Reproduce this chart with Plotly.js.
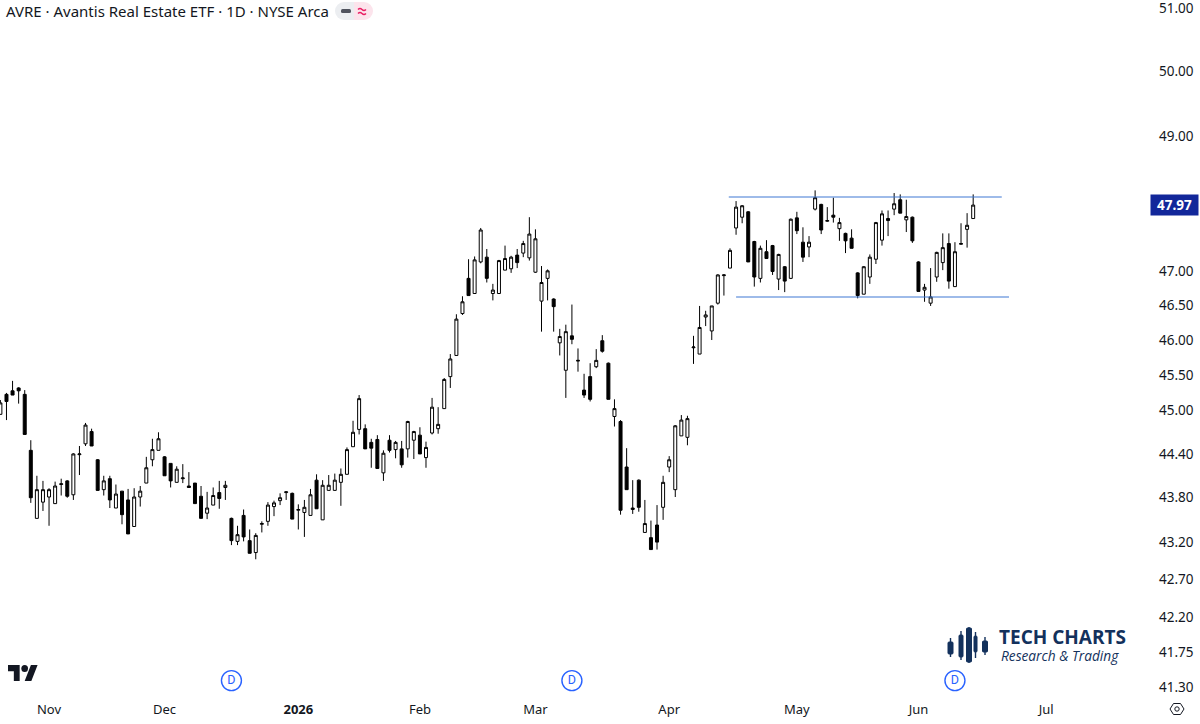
<!DOCTYPE html>
<html>
<head>
<meta charset="utf-8">
<script src="https://cdn.plot.ly/plotly-3.0.1.min.js"></script>
<style>html,body{margin:0;padding:0;background:#fff;overflow:hidden}#c{width:1200px;height:724px}</style>
</head>
<body>
<div id="c"></div>
<script>
const opens = [44.95,45.23,45.28,45.32,45.23,44.45,43.52,43.74,43.81,43.72,
43.98,44.03,43.84,44.39,44.54,44.71,44.32,43.91,44.06,43.66,
43.89,43.77,43.41,43.81,44.00,44.32,44.45,44.36,44.27,44.01,
44.06,43.96,44.00,43.82,43.59,43.70,43.87,43.94,43.52,43.21,
43.56,43.22,43.06,43.44,43.48,43.68,43.76,43.87,43.86,43.63,
43.60,43.56,44.04,43.50,43.90,43.90,44.01,44.12,44.50,44.74,
44.75,44.56,44.60,44.14,44.59,44.46,44.47,44.47,44.59,44.66,
44.35,44.69,44.75,45.03,45.48,45.78,46.38,46.89,46.67,47.13,
47.20,46.67,46.67,47.01,47.03,47.23,47.26,47.19,46.98,46.56,
46.89,46.59,45.96,45.57,46.06,45.70,45.29,45.48,45.62,45.99,
45.67,44.92,44.85,44.22,43.64,44.04,43.33,43.26,43.43,43.67,
44.22,43.91,44.65,44.63,45.89,45.80,46.33,46.13,46.53,46.93,
47.04,47.63,47.79,47.87,47.43,46.89,47.28,47.37,46.88,47.06,
46.89,47.78,47.42,47.35,47.91,47.98,47.73,47.82,47.62,47.55,
47.48,46.97,46.66,46.91,47.17,47.45,47.77,47.91,48.05,47.75,
47.79,47.13,46.72,46.53,46.91,47.12,47.40,46.77,47.39,47.61,
47.77];
const highs = [45.15,45.25,45.42,45.33,45.29,44.59,44.10,44.03,43.93,44.02,
44.06,44.04,44.41,44.51,44.83,44.75,44.33,44.10,44.10,43.98,
43.89,43.92,43.93,43.96,44.36,44.61,44.70,44.37,44.27,44.23,
44.26,44.15,44.00,43.96,43.88,43.94,44.03,44.03,43.53,43.42,
43.64,43.37,43.32,43.48,43.74,43.76,43.86,43.89,43.87,43.71,
43.77,43.92,44.12,44.04,44.11,44.13,44.20,44.49,44.86,45.22,
44.81,44.61,44.66,44.45,44.66,44.58,44.58,44.86,44.72,44.77,
44.57,45.18,45.05,45.46,45.80,46.37,46.63,47.17,47.21,47.63,
47.32,46.81,47.16,47.37,47.22,47.32,47.44,47.79,47.61,47.07,
47.02,46.60,46.16,46.22,46.51,45.88,45.52,45.67,45.87,46.07,
45.68,45.16,44.87,44.48,44.04,44.05,43.77,43.49,43.70,44.10,
44.37,44.80,44.94,44.93,46.06,46.49,46.42,46.49,46.95,46.95,
47.33,48.03,47.97,47.88,47.44,47.37,47.45,47.38,47.25,47.07,
47.77,47.87,47.64,47.51,48.19,47.99,47.94,48.08,47.78,47.56,
47.61,46.98,47.07,47.24,47.72,47.89,47.89,48.15,48.13,48.05,
47.80,47.14,46.81,47.04,47.28,47.55,47.55,47.42,47.70,47.85,
48.13];
const lows = [44.95,44.87,45.22,45.10,44.67,43.73,43.52,43.62,43.42,43.72,
43.83,43.80,43.77,44.11,44.51,44.51,43.90,43.83,43.66,43.66,
43.44,43.31,43.41,43.68,44.00,44.23,44.45,44.10,43.94,44.01,
44.00,43.94,43.72,43.52,43.51,43.70,43.65,43.77,43.16,43.16,
43.21,43.05,42.97,43.33,43.42,43.55,43.70,43.77,43.51,43.37,
43.27,43.56,43.65,43.50,43.90,43.90,43.69,44.12,44.50,44.67,
44.47,44.21,44.20,44.03,44.42,44.34,44.21,44.35,44.33,44.40,
44.21,44.67,44.68,45.03,45.32,45.78,46.36,46.64,46.67,47.11,
46.83,46.57,46.67,47.01,46.97,47.04,47.20,47.15,46.97,46.12,
46.57,46.12,45.78,45.18,45.94,45.55,45.18,45.13,45.60,45.82,
45.16,44.78,43.57,43.91,43.58,43.61,43.33,43.10,43.10,43.50,
44.15,43.81,44.65,44.52,45.66,45.80,46.20,46.00,46.51,46.64,
47.04,47.53,47.70,47.13,46.77,46.83,47.18,46.94,46.72,46.69,
46.88,47.54,47.13,47.20,47.89,47.54,47.72,47.71,47.44,47.26,
47.33,46.60,46.66,46.81,47.10,47.37,47.51,47.82,47.85,47.57,
47.41,46.70,46.55,46.49,46.84,47.01,46.74,46.77,47.38,47.34,
47.77];
const closes = [45.11,45.13,45.22,45.28,44.67,43.80,43.91,43.91,43.91,43.96,
43.99,43.82,44.40,44.40,44.80,44.51,43.90,44.03,43.77,43.85,
43.57,43.31,43.81,43.89,44.21,44.46,44.61,44.10,44.03,44.19,
44.07,43.94,43.72,43.52,43.66,43.83,43.79,43.97,43.22,43.30,
43.27,43.05,43.29,43.45,43.70,43.73,43.80,43.88,43.51,43.64,
43.67,43.84,43.65,43.97,43.97,44.04,44.12,44.46,44.70,45.17,
44.47,44.48,44.20,44.41,44.45,44.56,44.25,44.85,44.71,44.40,
44.49,45.05,44.81,45.44,45.73,46.30,46.55,46.64,47.16,47.60,
46.89,46.72,47.15,47.18,47.20,47.12,47.40,47.54,47.47,46.83,
47.00,46.48,46.05,46.12,46.01,45.71,45.22,45.16,45.71,45.84,
45.16,45.03,43.63,43.91,43.66,43.67,43.45,43.10,43.20,44.01,
44.32,44.79,44.87,44.89,45.90,46.18,46.36,46.49,46.94,46.94,
47.30,47.94,47.96,47.13,46.91,47.33,47.18,46.99,47.24,46.85,
47.76,47.59,47.20,47.42,48.08,47.60,47.74,47.79,47.71,47.44,
47.33,46.64,47.06,47.20,47.71,47.84,47.74,47.99,47.85,47.80,
47.44,46.70,46.76,46.62,47.27,47.34,46.85,47.28,47.40,47.67,
47.97];

const monthLabels = ['Nov','Dec','<b>2026</b>','Feb','Mar','Apr','May','Jun','Jul'];
const monthBars = [8,27,49,69,88,110,131,151,172];
const priceTicks = [51,50,49,47,46.5,46,45.5,45,44.4,43.8,43.2,42.7,42.2,41.75,41.3];
const priceLabels = ['51.00','50.00','49.00','47.00','46.50','46.00','45.50','45.00','44.40','43.80','43.20','42.70','42.20','41.75','41.30'];
const resistanceBars = [119.8,164.7], resistanceLevel = [48.09,48.09];
const supportBars = [121,165.9], supportLevel = [46.62,46.62];
const dividendBars = [38,94,157], dividendRow = [41.38,41.38,41.38];
const lastPrice = 47.97;
const titleText = 'AVRE · Avantis Real Estate ETF · 1D · NYSE Arca';

const W = 1200, H = 724, MR = 46, MB = 27;
const PW = W - MR, PH = H - MB;
const px = x => x / PW, py = y => (PH - y) / PH;
const svg = s => 'data:image/svg+xml;charset=utf-8,' + encodeURIComponent(s);
function img(x0, y0, x1, y1, s) {
  return {source: svg(s), xref:'paper', yref:'paper', x:px(x0), y:py(y0), sizex:(x1-x0)/PW, sizey:(y1-y0)/PH,
          xanchor:'left', yanchor:'top', sizing:'stretch', layer:'above'};
}
const navy = '#13315c';
const tvLogo = '<svg xmlns="http://www.w3.org/2000/svg" viewBox="0 4 36 18"><path fill="#131722" d="M14 22H7V11H0V4h14v18zM28 22h-8l7.5-18h8L28 22z"/><circle fill="#131722" cx="20" cy="8" r="4"/></svg>';
const barsLogo = '<svg xmlns="http://www.w3.org/2000/svg" viewBox="0 0 42 36"><g fill="'+navy+'" stroke="'+navy+'"><path stroke-width="1.4" d="M3.5 11V30M14 4V33M22 0V36M28.5 5V31M38 10V28" fill="none"/><rect x="1" y="15" width="5" height="12" rx="1"/><rect x="12" y="8" width="4" height="22" rx="1"/><rect x="19.5" y="1" width="5" height="34" rx="1"/><rect x="27" y="9" width="3" height="16" rx="1"/><rect x="35.5" y="14" width="5" height="11" rx="1"/></g></svg>';
const gear = '<svg xmlns="http://www.w3.org/2000/svg" viewBox="0 0 16 16"><path fill="none" stroke="#131722" stroke-width="1" d="M4.5 2.5h7L15 8l-3.5 5.5h-7L1 8z"/><circle cx="8" cy="8" r="2.2" fill="none" stroke="#131722" stroke-width="1"/></svg>';
const pill = '<svg xmlns="http://www.w3.org/2000/svg" viewBox="0 0 38 18"><path fill="#eceef1" d="M9 0H19V18H9A9 9 0 0 1 9 0z"/><path fill="#fce4ec" d="M19 0H29A9 9 0 0 1 29 18H19z"/><rect x="6" y="7" width="10" height="4" rx="1.5" fill="#50535e"/><path fill="none" stroke="#e91e63" stroke-width="1.4" d="M23 7.5q2-2 4 0t4 0M23 11.5q2-2 4 0t4 0"/></svg>';

const traces = [
  {type:'candlestick', x:opens.map((_,i)=>i), open:opens, high:highs, low:lows, close:closes,
   whiskerwidth:0, hoverinfo:'skip',
   increasing:{line:{color:'#000',width:1}, fillcolor:'#ffffff'},
   decreasing:{line:{color:'#000',width:1}, fillcolor:'#000000'}},
  {type:'scatter', mode:'lines', x:resistanceBars, y:resistanceLevel, line:{color:'#3f78d4',width:1.1}, hoverinfo:'skip'},
  {type:'scatter', mode:'lines', x:supportBars, y:supportLevel, line:{color:'#3f78d4',width:1.1}, hoverinfo:'skip'},
  {type:'scatter', mode:'markers+text', x:dividendBars, y:dividendRow, text:['D','D','D'], textposition:'middle center',
   textfont:{family:'Roboto, sans-serif', size:12.5, color:'#2962ff'},
   marker:{symbol:'circle', size:20, color:'#ffffff', line:{color:'#2962ff',width:1.4}}, hoverinfo:'skip'}
];

const layout = {
  width:W, height:H, showlegend:false, dragmode:false, hovermode:false,
  paper_bgcolor:'#fff', plot_bgcolor:'#fff',
  margin:{l:0,r:MR,t:0,b:MB,pad:0},
  boxgap:0.3,
  font:{family:'"Noto Sans", sans-serif', color:'#131722', size:12},
  xaxis:{type:'linear', range:[-0.066,189.74], rangeslider:{visible:false}, showgrid:false, zeroline:false, showline:false,
         tickmode:'array', tickvals:monthBars, ticktext:monthLabels, ticks:'', ticklabelstandoff:3, tickfont:{size:13,color:'#131722'}},
  yaxis:{type:'log', side:'right', range:[1.61458,1.70865], showgrid:false, zeroline:false, showline:false, ticklabeloverflow:'allow',
         tickmode:'array', tickvals:priceTicks, ticktext:priceLabels, ticks:'', ticklabelstandoff:4, tickfont:{size:13.5,color:'#131722'}},
  annotations:[
    {xref:'paper',yref:'paper',x:px(4),y:py(11),xanchor:'left',yanchor:'middle',showarrow:false,text:titleText,
     font:{family:'"Noto Sans", sans-serif',size:15,color:'#131722'}},
    {xref:'paper',yref:'y',x:px(1174.5),y:Math.log10(lastPrice),xanchor:'center',yanchor:'middle',showarrow:false,
     text:'<b>'+lastPrice.toFixed(2)+'</b>',width:47,height:20,bgcolor:'#12279a',borderpad:0,
     font:{family:'"Noto Sans", sans-serif',size:13.5,color:'#fff'}},
    {xref:'paper',yref:'paper',x:px(997),y:py(637),xanchor:'left',yanchor:'middle',showarrow:false,text:'<b>TECH CHARTS</b>',
     font:{family:'"Open Sans", sans-serif',size:19,color:navy}},
    {xref:'paper',yref:'paper',x:px(999),y:py(655),xanchor:'left',yanchor:'middle',showarrow:false,text:'<i>Research &amp; Trading</i>',
     font:{family:'"Open Sans", sans-serif',size:13.7,color:navy}}
  ],
  images:[
    img(335,2,373,20,pill),
    img(8,665,38,681,tvLogo),
    img(947,627,989,663,barsLogo),
    img(1169,701,1185,717,gear)
  ]
};
Plotly.newPlot('c',traces,layout,{displayModeBar:false,staticPlot:true});
</script>
</body>
</html>
